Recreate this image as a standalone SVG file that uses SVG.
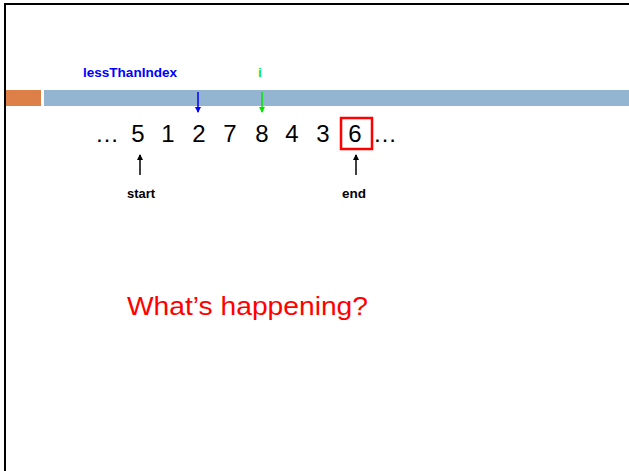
<svg xmlns="http://www.w3.org/2000/svg" width="629" height="471" viewBox="0 0 629 471">
<style>
.num{font-family:"Liberation Sans",Arial,sans-serif;font-size:24px;fill:#000;text-anchor:middle}
.lbl{font-family:"Liberation Sans",Arial,sans-serif;font-size:12px;font-weight:bold;text-anchor:middle}
</style>
<defs>
<marker id="hk" markerWidth="6" markerHeight="6" refX="5" refY="3" orient="auto" markerUnits="userSpaceOnUse"><path d="M0,0 L6,3 L0,6 z" fill="#000"/></marker>
<marker id="hb" markerWidth="6" markerHeight="6" refX="5" refY="3" orient="auto" markerUnits="userSpaceOnUse"><path d="M0,0 L6,3 L0,6 z" fill="#0000ff"/></marker>
<marker id="hg" markerWidth="6" markerHeight="6" refX="5" refY="3" orient="auto" markerUnits="userSpaceOnUse"><path d="M0,0 L6,3 L0,6 z" fill="#00e600"/></marker>
</defs>
<rect width="629" height="471" fill="#fff"/>
<path d="M5,471 V4 H629" fill="none" stroke="#000" stroke-width="2"/>
<g id="header">
<rect x="6" y="90" width="35" height="16" fill="#dd8047"/>
<rect x="44" y="90" width="585" height="16" fill="#94b5d1"/>
</g>
<g id="lessThanIndex">
<text class="lbl" x="130" y="77" fill="#0000ff" textLength="94" lengthAdjust="spacingAndGlyphs">lessThanIndex</text>
</g>
<g id="i">
<text class="lbl" x="260" y="77" fill="#00e600">i</text>
</g>
<g id="sequence">
<text class="num" x="107" y="142">…</text>
<text class="num" x="138" y="142">5</text>
<text class="num" x="168" y="142">1</text>
<text class="num" x="199" y="142">2</text>
<text class="num" x="230" y="142">7</text>
<text class="num" x="262" y="142">8</text>
<text class="num" x="292" y="142">4</text>
<text class="num" x="323" y="142">3</text>
<text class="num" x="355" y="142">6</text>
<text class="num" x="385" y="142">…</text>
</g>
<g id="endBox">
<rect x="341" y="118" width="31" height="31" fill="none" stroke="#ff0000" stroke-width="2.5"/>
</g>
<g id="start">
<text class="lbl" x="141" y="198" fill="#000" textLength="28" lengthAdjust="spacingAndGlyphs">start</text>
</g>
<g id="end">
<text class="lbl" x="354" y="198" fill="#000" textLength="24" lengthAdjust="spacingAndGlyphs">end</text>
</g>
<g id="question">
<text x="127" y="315" font-family="'Liberation Sans',Arial,sans-serif" font-size="26" fill="#ff0000" textLength="241" lengthAdjust="spacingAndGlyphs">What’s happening?</text>
</g>
<g id="connectors" stroke-width="1.5">
<line x1="198" y1="92" x2="198" y2="112" stroke="#0000ff" marker-end="url(#hb)"/>
<line x1="262" y1="92" x2="262" y2="112" stroke="#00e600" marker-end="url(#hg)"/>
<line x1="140" y1="175" x2="140" y2="155" stroke="#000" marker-end="url(#hk)"/>
<line x1="356" y1="175" x2="356" y2="155" stroke="#000" marker-end="url(#hk)"/>
</g>
</svg>
